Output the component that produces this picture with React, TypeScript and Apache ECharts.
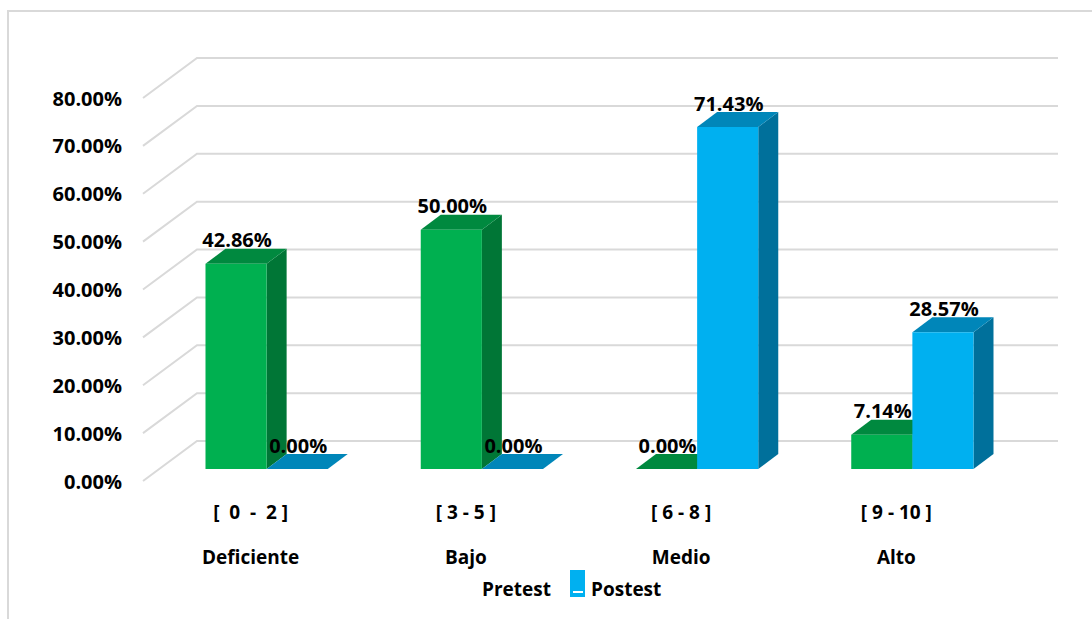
import React, { useEffect, useRef } from "react";
import * as echarts from "echarts";

// Score bands and their levels
const ranges = ["[  0  -  2 ]", "[ 3 - 5 ]", "[ 6 - 8 ]", "[ 9 - 10 ]"];
const levels = ["Deficiente", "Bajo", "Medio", "Alto"];

// Percentage of students per level
const pretest = [42.86, 50.0, 0.0, 7.14];
const postest = [0.0, 0.0, 71.43, 28.57];

// Value axis ticks
const yTicks = [0, 10, 20, 30, 40, 50, 60, 70, 80];

const FONT = "'Open Sans', 'Noto Sans', sans-serif";

// Oblique projection used for the pseudo-3D look
const WALL_DX = 54; // front plane -> back wall
const WALL_DY = -40;
const BAR_DX = 16; // front plane -> bar plane
const BAR_DY = -12;
const DEPTH_X = 20; // bar depth
const DEPTH_Y = -15;

const palettes = [
  { front: "#00B050", top: "#00893F", side: "#007636", label: "Pretest" },
  { front: "#00B0F0", top: "#0086B9", side: "#00709B", label: "Postest" },
];

function barSeries(values: number[], idx: number) {
  const pal = palettes[idx];
  return {
    type: "custom",
    name: pal.label,
    z: 3,
    data: values.map((v, i) => [i, v]),
    encode: { x: 0, y: 1 },
    renderItem: (params: any, api: any) => {
      const cat = api.value(0);
      const val = api.value(1);
      const topPt = api.coord([cat, val]);
      const basePt = api.coord([cat, 0]);
      const band = api.size([1, 0])[0];
      const w = band * 0.284;
      const x0 = topPt[0] + BAR_DX - (idx === 0 ? w : 0);
      const yTop = topPt[1] + BAR_DY;
      const yBase = basePt[1] + BAR_DY;
      return {
        type: "group",
        children: [
          {
            type: "polygon",
            shape: {
              points: [
                [x0 + w, yTop],
                [x0 + w + DEPTH_X, yTop + DEPTH_Y],
                [x0 + w + DEPTH_X, yBase + DEPTH_Y],
                [x0 + w, yBase],
              ],
            },
            style: { fill: pal.side },
          },
          {
            type: "polygon",
            shape: {
              points: [
                [x0, yTop],
                [x0 + DEPTH_X, yTop + DEPTH_Y],
                [x0 + w + DEPTH_X, yTop + DEPTH_Y],
                [x0 + w, yTop],
              ],
            },
            style: { fill: pal.top },
          },
          {
            type: "rect",
            shape: { x: x0, y: yTop, width: w, height: yBase - yTop },
            style: { fill: pal.front },
          },
          {
            type: "text",
            z2: 100,
            style: {
              x: x0 + w / 2 + 1,
              y: yTop - 24,
              text: val.toFixed(2) + "%",
              align: "center",
              verticalAlign: "middle",
              font: `bold 20px ${FONT}`,
              fill: "#000000",
            },
          },
        ],
      };
    },
  };
}

export default function App() {
  const ref = useRef<HTMLDivElement>(null);

  useEffect(() => {
    if (!ref.current) return;
    const chart = echarts.init(ref.current, undefined, { renderer: "svg" });
    chart.setOption({
      animation: false,
      backgroundColor: "#ffffff",
      grid: { left: 143, right: 88, top: 98, bottom: 138 },
      xAxis: {
        type: "category",
        data: ranges.map((r, i) => `${r}\n${levels[i]}`),
        axisLine: { show: false },
        axisTick: { show: false },
        axisLabel: {
          margin: 8,
          color: "#000000",
          fontFamily: FONT,
          fontWeight: "bold",
          fontSize: 19,
          lineHeight: 45,
        },
      },
      yAxis: {
        type: "value",
        min: 0,
        max: 80,
        interval: 10,
        axisLine: { show: false },
        axisTick: { show: false },
        splitLine: { show: false },
        axisLabel: {
          margin: 21,
          color: "#000000",
          fontFamily: FONT,
          fontWeight: "bold",
          fontSize: 20,
          formatter: (v: number) => v.toFixed(2) + "%",
        },
      },
      series: [
        {
          type: "custom",
          name: "grid",
          z: 1,
          silent: true,
          data: yTicks.map((t) => [0, t]),
          encode: { x: 0, y: 1 },
          renderItem: (params: any, api: any) => {
            const cs = params.coordSys;
            const y = api.coord([0, api.value(1)])[1];
            return {
              type: "polyline",
              shape: {
                points: [
                  [cs.x, y],
                  [cs.x + WALL_DX, y + WALL_DY],
                  [cs.x + cs.width + WALL_DX, y + WALL_DY],
                ],
              },
              style: { stroke: "#d9d9d9", lineWidth: 2, fill: "none" },
            };
          },
        },
        barSeries(pretest, 0),
        barSeries(postest, 1),
      ],
      graphic: [
        {
          type: "rect",
          shape: { x: 8, y: 11, width: 1200, height: 700 },
          style: { fill: "none", stroke: "#d9d9d9", lineWidth: 2 },
          silent: true,
        },
        {
          type: "text",
          x: 551,
          y: 589,
          style: {
            text: "Pretest",
            align: "right",
            verticalAlign: "middle",
            font: `bold 19px ${FONT}`,
            fill: "#000000",
          },
        },
        {
          type: "rect",
          shape: { x: 570, y: 570, width: 15, height: 27 },
          style: { fill: "#00B0F0" },
        },
        {
          type: "rect",
          shape: { x: 573, y: 591, width: 10, height: 2 },
          style: { fill: "#ffffff" },
        },
        {
          type: "text",
          x: 591,
          y: 589,
          style: {
            text: "Postest",
            align: "left",
            verticalAlign: "middle",
            font: `bold 19px ${FONT}`,
            fill: "#000000",
          },
        },
      ],
    });
    return () => chart.dispose();
  }, []);

  return (
    <div
      ref={ref}
      style={{ position: "fixed", left: 0, top: 0, width: 1092, height: 619 }}
    />
  );
}
